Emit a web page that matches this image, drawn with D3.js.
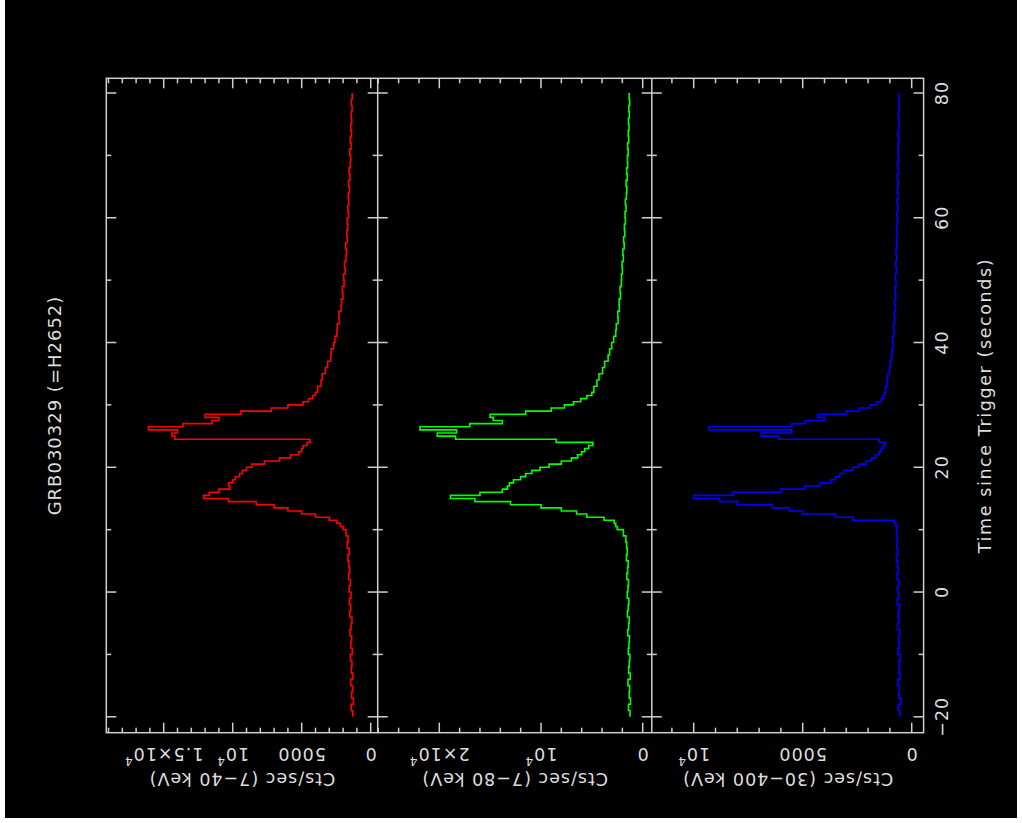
<!DOCTYPE html>
<html>
<head>
<meta charset="utf-8">
<script src="https://cdn.jsdelivr.net/npm/d3@7"></script>
<style>
html, body { margin: 0; padding: 0; background: #fff; }
svg { display: block; }
text { font-family: "DejaVu Sans", sans-serif; fill: #dedede; letter-spacing: 1px; }
</style>
</head>
<body>
<svg id="chart" width="1022" height="823"></svg>
<script>
// start time of each bin (s since trigger); last bin ends at 80
var timeBins = [-20,-19,-18,-17,-16,-15,-14,-13,-12,-11,-10,-9,-8,-7,-6,-5,-4,-3,-2,-1,0,1,2,3,4,5,6,7,8,9,
  10,10.5,11,11.5,12,12.5,13,13.5,14,14.5,15,15.5,16,16.5,17,17.5,18,18.5,19,19.5,20,20.5,21,21.5,22,22.5,23,23.5,24,24.5,25,25.5,26,26.5,27,27.5,28,28.5,29,29.5,30,30.5,31,31.5,
  32,33,34,35,36,37,38,39,40,41,42,43,44,45,46,47,48,49,50,51,52,53,54,55,56,57,58,59,60,61,62,63,64,65,66,67,68,69,70,71,72,73,74,75,76,77,78,79];
var timeEnd = 80;

// cts/sec, 7-40 keV
var rate7to40 = [1300,1420,1250,1380,1310,1450,1290,1400,1360,1470,1330,1440,1380,1500,1420,1360,1520,1450,1540,1430,1560,1480,1600,1520,1580,1650,1560,1700,1640,1780,
  2000,2200,2450,3000,4000,5000,6000,7000,8300,10300,12100,11700,11000,10200,10300,10000,9800,9500,9300,9000,8600,7700,6600,5800,5200,5000,4900,4600,4400,14200,14400,14000,16100,13600,11500,11000,12000,9400,7200,6000,4900,4500,4200,4000,
  3850,3600,3520,3280,3120,2900,2860,2680,2590,2450,2420,2280,2300,2150,2120,2010,2060,1930,1960,1850,1900,1790,1760,1820,1700,1730,1660,1700,1610,1650,1590,1620,1540,1600,1500,1560,1480,1450,1520,1420,1480,1390,1440,1380,1420,1350,1400,1340];

// cts/sec, 7-80 keV
var rate7to80 = [1250,1400,1200,1330,1280,1450,1230,1380,1320,1260,1420,1350,1300,1470,1380,1330,1500,1420,1360,1520,1450,1400,1560,1480,1430,1600,1520,1580,1650,1900,
  2500,2650,2800,3800,5500,6500,8000,10000,13000,16500,18900,16000,13800,13300,13100,12700,12000,11500,10900,10100,9200,8000,7000,6400,6000,5700,5300,4900,8500,18400,20200,18300,21900,17000,13800,14700,15000,11500,9000,7700,6800,6100,5500,5000,
  4800,4500,4300,3950,3750,3400,3250,3050,2850,2650,2600,2420,2450,2300,2320,2180,2230,2100,2080,2000,2030,1900,1950,1820,1870,1760,1800,1700,1740,1640,1700,1600,1560,1640,1520,1580,1480,1500,1430,1480,1380,1420,1350,1400,1310,1360,1280,1330];

// cts/sec, 30-400 keV
var rate30to400 = [540,620,500,590,560,640,530,600,580,520,630,570,610,550,650,590,620,560,660,600,640,580,670,620,650,700,630,680,660,700,
  650,720,800,2700,3500,5000,5600,6400,8000,8800,10000,8200,6000,4900,4200,3700,3500,3300,3100,2700,2400,2100,1850,1650,1500,1400,1300,1200,1500,6100,6900,5500,9300,5500,4900,4000,4300,3000,2400,1900,1600,1400,1300,1250,
  1200,1130,1100,1020,990,920,900,860,880,810,830,780,800,750,790,730,760,720,740,700,730,690,720,680,700,660,690,650,680,640,670,630,650,620,660,610,640,600,630,620,590,630,600,580,610,590,570,600];

var bandLabels = ["Cts/sec (7\u221240 keV)", "Cts/sec (7\u221280 keV)", "Cts/sec (30\u2212400 keV)"];
var bandColors = ["#ff0000", "#00ff00", "#0000ff"];
var rateTicks = [[0, 5000, 10000, 15000], [0, 10000, 20000], [0, 5000, 10000]];
var rateTickLabels = [["0", "5000", "10^4", "1.5\u00d710^4"], ["0", "10^4", "2\u00d710^4"], ["0", "5000", "10^4"]];
var timeTicks = [-20, 0, 20, 40, 60, 80];
var timeTickLabels = ["\u221220", "0", "20", "40", "60", "80"];
var title = "GRB030329 (=H2652)";
var timeLabel = "Time since Trigger (seconds)";

var svg = d3.select("#chart");
svg.append("rect").attr("x", 5).attr("y", 0).attr("width", 1012).attr("height", 818).attr("fill", "#000");

// the plot is drawn in its natural orientation and then turned a quarter turn
var L = 654.4, H = 817.3;
var g = svg.append("g").attr("transform", "translate(106.3,732.7) rotate(-90)");

var tScale = d3.scaleLinear().domain([-20, 80]).range([15.9, 639.7]);

var panels = [
  {v0: 0, v1: 271.4, domain: [-507, 19160], minor: 1000, data: rate7to40},
  {v0: 271.4, v1: 545.5, domain: [-895, 26057], minor: 2000, data: rate7to80},
  {v0: 545.5, v1: H, domain: [-546, 11922], minor: 1000, data: rate30to400}
];

var axisColor = "#cfcfcf";

function addLabel(sel, s) {
  var parts = s.split("^");
  sel.text(parts[0]);
  if (parts.length > 1) {
    sel.append("tspan").attr("dy", -7).attr("font-size", "12px").text(parts[1]);
  }
}

panels.forEach(function (p, i) {
  var yS = d3.scaleLinear().domain(p.domain).range([p.v1, p.v0]);
  var pg = g.append("g");

  // time ticks on both edges of the panel
  d3.range(-20, 81, 10).forEach(function (t) {
    var len = (t % 20 === 0) ? 10 : 5;
    var u = tScale(t);
    pg.append("line").attr("x1", u).attr("x2", u).attr("y1", p.v0).attr("y2", p.v0 + len)
      .attr("stroke", axisColor).attr("stroke-width", 1.5);
    pg.append("line").attr("x1", u).attr("x2", u).attr("y1", p.v1).attr("y2", p.v1 - len)
      .attr("stroke", axisColor).attr("stroke-width", 1.5);
  });

  // rate ticks on the time-axis edges
  var major = rateTicks[i][1];
  d3.range(0, p.domain[1], p.minor).forEach(function (r) {
    var len = (r % major === 0) ? 10 : 5;
    var v = yS(r);
    pg.append("line").attr("x1", 0).attr("x2", len).attr("y1", v).attr("y2", v)
      .attr("stroke", axisColor).attr("stroke-width", 1.5);
    pg.append("line").attr("x1", L).attr("x2", L - len).attr("y1", v).attr("y2", v)
      .attr("stroke", axisColor).attr("stroke-width", 1.5);
  });

  rateTicks[i].forEach(function (r, k) {
    var tx = pg.append("text")
      .attr("transform", "translate(-21," + yS(r) + ") rotate(-90)")
      .attr("text-anchor", "middle")
      .attr("dominant-baseline", "central")
      .attr("font-size", "17.5px");
    addLabel(tx, rateTickLabels[i][k]);
  });

  pg.append("text")
    .attr("transform", "translate(-46," + ((p.v0 + p.v1) / 2) + ") rotate(-90)")
    .attr("text-anchor", "middle")
    .attr("dominant-baseline", "central")
    .attr("font-size", "17.5px")
    .text(bandLabels[i]);

  var pts = timeBins.map(function (t, k) { return {t: t, r: p.data[k]}; });
  pts.push({t: timeEnd, r: p.data[p.data.length - 1]});

  var line = d3.line()
    .x(function (d) { return tScale(d.t); })
    .y(function (d) { return yS(d.r); })
    .curve(d3.curveStepAfter);

  pg.append("path").datum(pts)
    .attr("d", line)
    .attr("fill", "none")
    .attr("stroke", bandColors[i])
    .attr("stroke-width", 1.6);
});

// frame and separators
g.append("rect").attr("x", 0).attr("y", 0).attr("width", L).attr("height", H)
  .attr("fill", "none").attr("stroke", axisColor).attr("stroke-width", 1.5);
[panels[0].v1, panels[1].v1].forEach(function (v) {
  g.append("line").attr("x1", 0).attr("x2", L).attr("y1", v).attr("y2", v)
    .attr("stroke", axisColor).attr("stroke-width", 1.5);
});

// time tick labels
timeTicks.forEach(function (t, k) {
  g.append("text")
    .attr("x", tScale(t)).attr("y", H + 18.5)
    .attr("text-anchor", "middle")
    .attr("dominant-baseline", "central")
    .attr("font-size", "17.5px")
    .text(timeTickLabels[k]);
});

g.append("text")
  .attr("x", L / 2).attr("y", H + 61)
  .attr("text-anchor", "middle")
  .attr("dominant-baseline", "central")
  .attr("font-size", "17.5px")
  .style("letter-spacing", "1.6px")
  .text(timeLabel);

g.append("text")
  .attr("x", L / 2).attr("y", -52)
  .attr("text-anchor", "middle")
  .attr("dominant-baseline", "central")
  .attr("font-size", "18px")
  .text(title);
</script>
</body>
</html>
